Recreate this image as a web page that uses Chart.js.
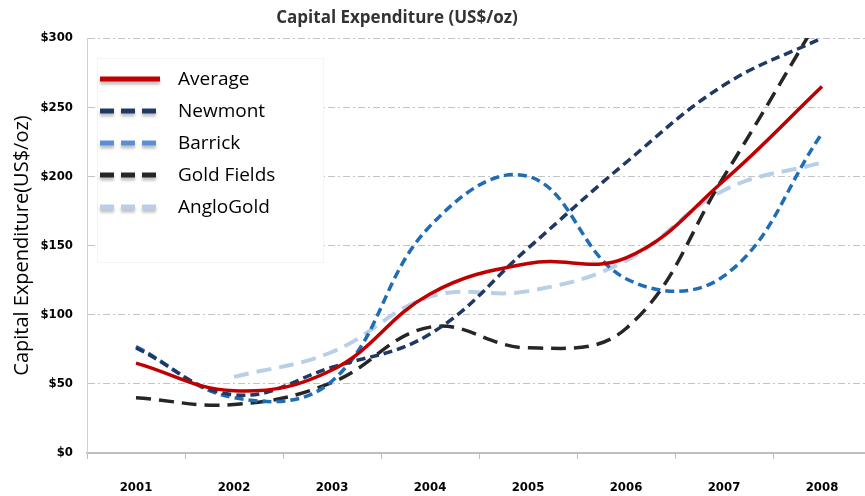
<!DOCTYPE html>
<html>
<head>
<meta charset="utf-8">
<script src="https://cdn.jsdelivr.net/npm/chart.js@4.4.0/dist/chart.umd.min.js"></script>
<style>
  html, body { margin: 0; padding: 0; background: #fff; overflow: hidden; }
  .wrap { width: 872px; height: 496px; position: relative; }
</style>
</head>
<body>
<div class="wrap"><canvas id="capexChart"></canvas></div>
<script>
const years = ['2001', '2002', '2003', '2004', '2005', '2006', '2007', '2008'];
const yTicks = [0, 50, 100, 150, 200, 250, 300];

const average = [65, 45, 60, 115, 137, 141, 197, 265];
const newmont = [76, 42, 62, 86, 148, 210, 266, 300];
const barrick = [77, 40, 52, 164, 200, 126, 128, 231];
const goldFields = [40, 35, 51, 91, 76, 90, 200, 318];
const angloGold = [null, 55, 73, 113, 117, 139, 190, 210];

const seriesNames = ['Average', 'Newmont', 'Barrick', 'Gold Fields', 'AngloGold'];

const tickFont = { family: '"DejaVu Sans Condensed", "Liberation Sans Narrow", "Liberation Sans"', weight: 'bold', size: 13 };

// legend drawn on the canvas, over the plot like the original
const legendBox = {
    id: 'legendBox',
    afterDatasetsDraw(chart) {
        const ctx = chart.ctx;
        ctx.save();
        ctx.fillStyle = '#ffffff';
        ctx.fillRect(97, 58, 226, 204);
        ctx.strokeStyle = '#f4f4f4';
        ctx.lineWidth = 1;
        ctx.strokeRect(97.5, 58.5, 226, 204);
        chart.data.datasets.forEach((ds, i) => {
            const y = 79 + i * 32;
            ctx.save();
            ctx.shadowColor = 'rgba(0,0,0,0.25)';
            ctx.shadowOffsetY = 3;
            ctx.shadowBlur = 3;
            ctx.strokeStyle = ds.legendColor || ds.borderColor;
            ctx.lineWidth = 5;
            ctx.setLineDash(ds.legendDash || []);
            ctx.beginPath();
            ctx.moveTo(100, y);
            ctx.lineTo(160, y);
            ctx.stroke();
            ctx.restore();
            ctx.fillStyle = '#000';
            ctx.font = '19px "Open Sans"';
            ctx.textBaseline = 'middle';
            ctx.fillText(ds.label, 178, y + 1);
        });
        ctx.restore();
    },
    afterDraw(chart) {
        const ctx = chart.ctx;
        ctx.save();
        ctx.fillStyle = '#333333';
        ctx.font = 'bold 17px "Open Sans"';
        ctx.textAlign = 'center';
        ctx.textBaseline = 'middle';
        ctx.fillText('Capital Expenditure (US$/oz)', 397, 18);
        ctx.restore();
    }
};

const ctx = document.getElementById('capexChart');

new Chart(ctx, {
    type: 'line',
    data: {
        labels: years,
        datasets: [
            {
                label: seriesNames[0],
                data: average,
                borderColor: '#c00000',
                borderWidth: 3.5,
            },
            {
                label: seriesNames[1],
                data: newmont,
                borderColor: '#1f3864',
                borderWidth: 3.5,
                borderDash: [9, 5],
                legendDash: [14, 7],
            },
            {
                label: seriesNames[2],
                data: barrick,
                borderColor: '#1f6db5',
                legendColor: '#5a8fd6',
                borderWidth: 3.5,
                borderDash: [9, 5],
                legendDash: [14, 7],
            },
            {
                label: seriesNames[3],
                data: goldFields,
                borderColor: '#262626',
                borderWidth: 3.5,
                borderDash: [15, 8],
                legendDash: [14, 7],
            },
            {
                label: seriesNames[4],
                data: angloGold,
                borderColor: '#b9cfe8',
                borderWidth: 4,
                borderDash: [15, 8],
                legendDash: [14, 7],
            },
        ]
    },
    options: {
        responsive: true,
        maintainAspectRatio: false,
        animation: false,
        layout: {
            padding: { top: 38, right: 1, left: 0, bottom: 0 }
        },
        elements: {
            line: { tension: 0.4, fill: false, borderCapStyle: 'butt' },
            point: { radius: 0 }
        },
        scales: {
            x: {
                offset: true,
                afterFit: (scale) => { scale.height = 43; },
                grid: {
                    offset: true,
                    drawOnChartArea: false,
                    drawTicks: true,
                    tickLength: 6,
                    color: '#bfbfbf',
                },
                border: { color: '#bfbfbf', width: 2 },
                ticks: {
                    color: '#000',
                    padding: 21,
                    font: tickFont,
                },
            },
            y: {
                min: 0,
                max: 300,
                afterFit: (scale) => { scale.width = 87; },
                afterBuildTicks: (scale) => {
                    scale.ticks = yTicks.map(v => ({ value: v }));
                },
                grid: {
                    color: '#c4c4c4',
                    drawTicks: false,
                },
                // in v4 border.dash styles the grid lines
                border: { color: '#d0d0d0', width: 1, dash: [7, 3, 2, 3] },
                ticks: {
                    color: '#000',
                    padding: 14,
                    font: tickFont,
                    callback: (v) => '$' + v,
                },
                title: {
                    display: true,
                    text: 'Capital Expenditure(US$/oz)',
                    color: '#000',
                    font: { family: '"Open Sans"', size: 20 },
                    padding: { top: 10, bottom: 0 },
                },
            }
        },
        plugins: {
            legend: { display: false },
            title: { display: false },
            tooltip: { enabled: false },
        },
    },
    plugins: [legendBox]
});
</script>
</body>
</html>
